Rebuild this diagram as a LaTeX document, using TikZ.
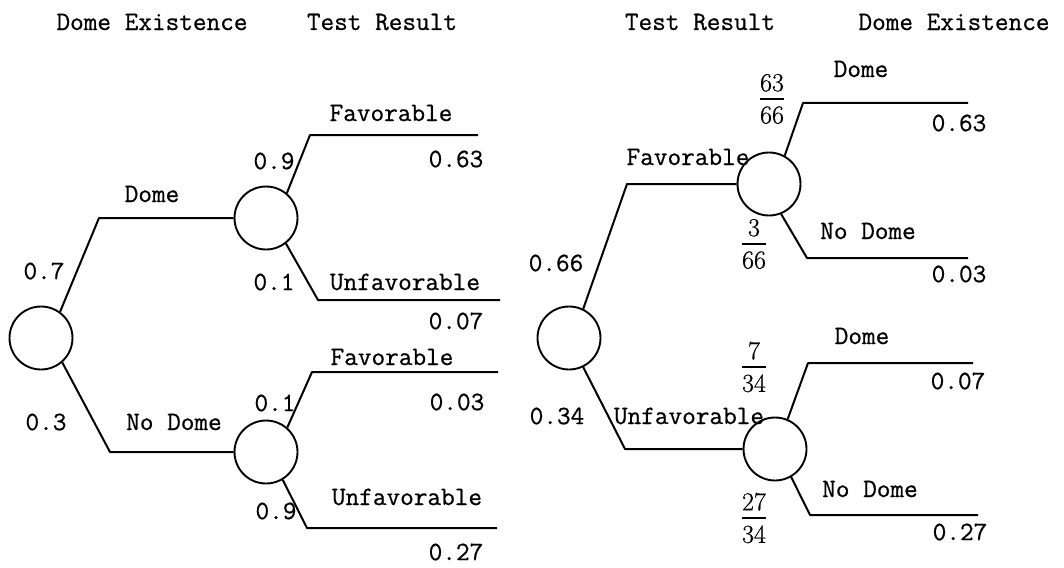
\documentclass[tikz,border=0pt]{standalone}
\usepackage{fontspec}
\newfontfamily\typefont{Latin Modern Mono}[FakeBold=0.7]
\newfontfamily\numfont{Latin Modern Roman}[FakeBold=0.6]
% stacked fraction with a bar as wide as the wider number
\newcommand\stackfrac[2]{\vbox{\halign{\hfil##\hfil\cr #1\cr
  \noalign{\vskip 6.5pt\hrule height 1.7pt\vskip 6.5pt}#2\cr}}}
\begin{document}
\begin{tikzpicture}[x=1pt,y=-1pt,
  lbl/.style={inner sep=0pt, font=\typefont\fontsize{26.5}{30}\selectfont},
  fracnode/.style={inner sep=0pt, font=\numfont\fontsize{26}{30}\selectfont},
  chance/.style={circle, draw, line width=1.9pt, minimum size=63pt, inner sep=0pt},
  branch/.style={line width=2pt, line join=round}]
\useasboundingbox (0,0) rectangle (1064,567);

% column headings
\node[lbl] (h1) at (152,22) {Dome Existence};
\node[lbl] (h2) at (382,22) {Test Result};
\node[lbl] (h3) at (700,22) {Test Result};
\node[lbl] (h4) at (954,22) {Dome Existence};

% ---------- left tree: dome first, then test ----------
\node[chance] (L0) at (41,338) {};
\node[chance] (L1) at (266,218) {};
\node[chance] (L2) at (266,452) {};

\coordinate (a1) at (99,218);
\coordinate (a2) at (110,452);
\draw[branch] (L0.54) -- (a1) -- (L1.west);
\draw[branch] (L0.-49) -- (a2) -- (L2.west);

\coordinate (b1) at (310,135); \coordinate (e1) at (478,135);
\coordinate (b2) at (318,300); \coordinate (e2) at (500,300);
\coordinate (b3) at (312,372); \coordinate (e3) at (498,372);
\coordinate (b4) at (307,528); \coordinate (e4) at (497,528);
\draw[branch] (L1.50) -- (b1) -- (e1);
\draw[branch] (L1.-52) -- (b2) -- (e2);
\draw[branch] (L2.49) -- (b3) -- (e3);
\draw[branch] (L2.-59) -- (b4) -- (e4);

\node[lbl] (l07) at (44,271) {0.7};
\node[lbl] (l03) at (46,422) {0.3};
\node[lbl] (ldome) at (152,194) {Dome};
\node[lbl] (lnodome) at (174,422) {No Dome};
\node[lbl] (l09a) at (274,161) {0.9};
\node[lbl] (l01a) at (274,282) {0.1};
\node[lbl] (l01b) at (275,403) {0.1};
\node[lbl] (l09b) at (276,511) {0.9};
\node[lbl] (lfav1) at (391,113) {Favorable};
\node[lbl] (lunf1) at (405,282) {Unfavorable};
\node[lbl] (lfav2) at (392,357) {Favorable};
\node[lbl] (lunf2) at (407,497) {Unfavorable};
\node[lbl] (lp1) at (456,159) {0.63};
\node[lbl] (lp2) at (456,321) {0.07};
\node[lbl] (lp3) at (457,402) {0.03};
\node[lbl] (lp4) at (456,552) {0.27};

% ---------- right tree: test first, then dome ----------
\node[chance] (R0) at (569,338) {};
\node[chance] (R1) at (769,184) {};
\node[chance] (R2) at (775,449) {};

\coordinate (c1) at (627,184);
\coordinate (c2) at (625,449);
\draw[branch] (R0.64) -- (c1) -- (R1.west);
\draw[branch] (R0.-64) -- (c2) -- (R2.west);

\coordinate (d1) at (803,103); \coordinate (f1) at (968,103);
\coordinate (d2) at (807,258); \coordinate (f2) at (968,258);
\coordinate (d3) at (808,363); \coordinate (f3) at (973,363);
\coordinate (d4) at (810,515); \coordinate (f4) at (978,515);
\draw[branch] (R1.61) -- (d1) -- (f1);
\draw[branch] (R1.-68) -- (d2) -- (f2);
\draw[branch] (R2.67) -- (d3) -- (f3);
\draw[branch] (R2.-60) -- (d4) -- (f4);

\node[lbl] (r066) at (556,263) {0.66};
\node[lbl] (r034) at (557,416) {0.34};
\node[lbl] (rfav) at (688,157) {Favorable};
\node[lbl] (runf) at (689,416) {Unfavorable};
\node[lbl] (rdome1) at (861,69) {Dome};
\node[lbl] (rnodome1) at (868,231) {No Dome};
\node[lbl] (rdome2) at (862,336) {Dome};
\node[lbl] (rnodome2) at (870,489) {No Dome};
\node[lbl] (rp1) at (959,123) {0.63};
\node[lbl] (rp2) at (959,274) {0.03};
\node[lbl] (rp3) at (958,381) {0.07};
\node[lbl] (rp4) at (960,532) {0.27};

\node[fracnode] (q1) at (772,99) {\stackfrac{63}{66}};
\node[fracnode] (q2) at (754,244) {\stackfrac{3}{66}};
\node[fracnode] (q3) at (754,367) {\stackfrac{7}{34}};
\node[fracnode] (q4) at (754,518) {\stackfrac{27}{34}};
\end{tikzpicture}
\end{document}
